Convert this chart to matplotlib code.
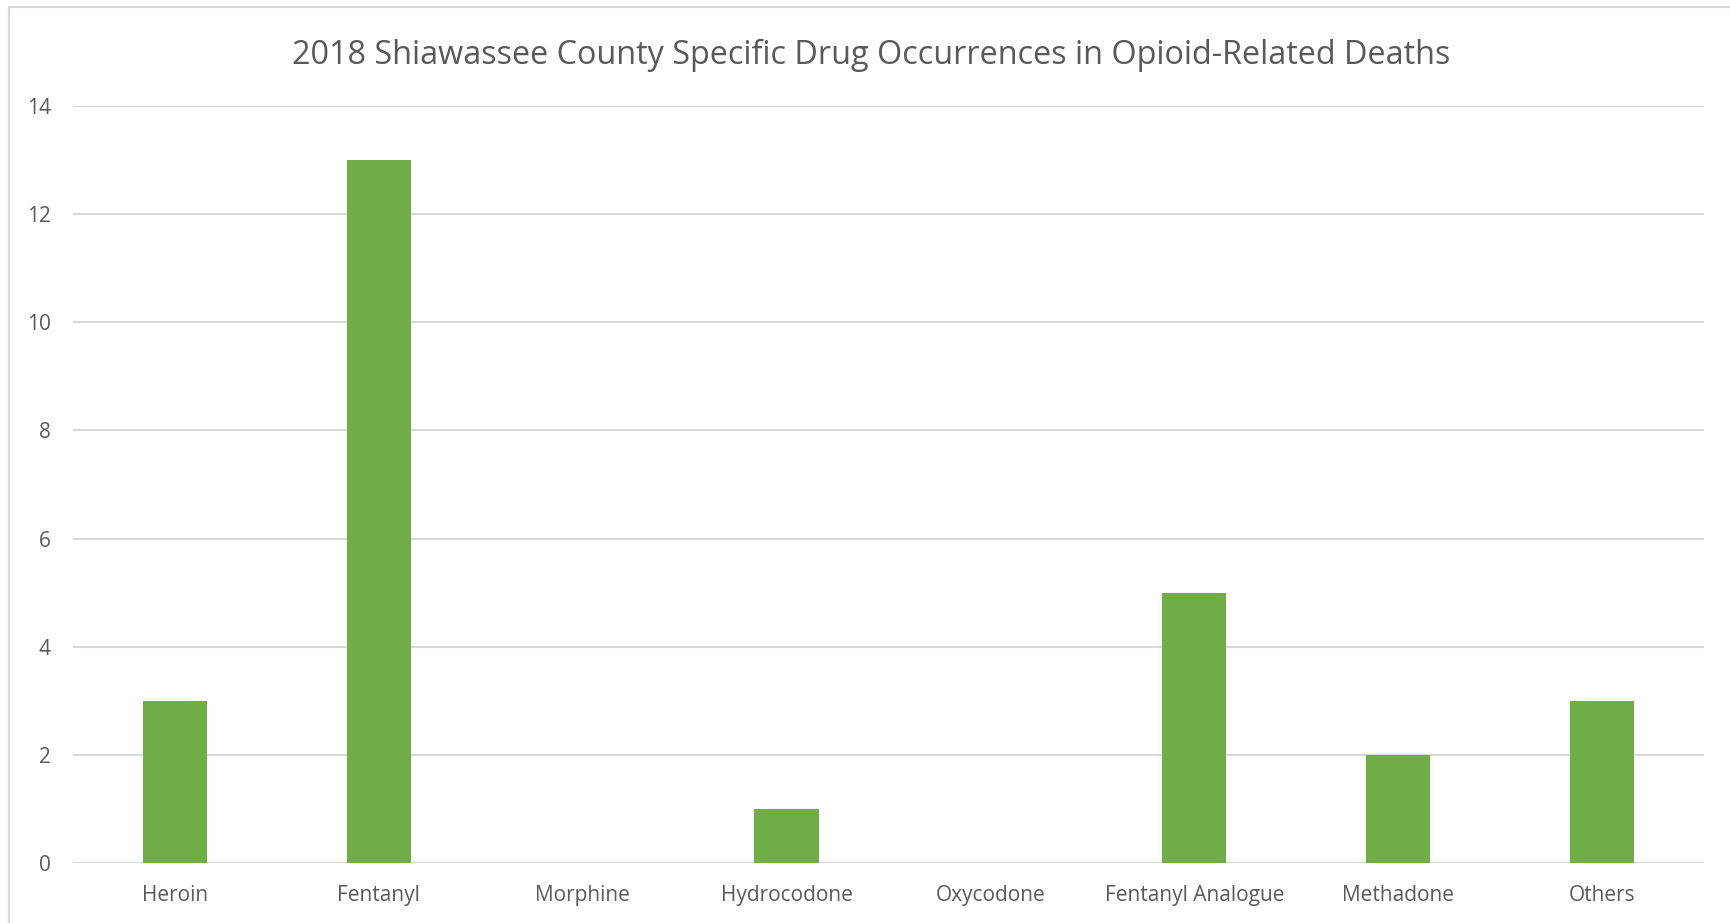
import matplotlib.pyplot as plt
from matplotlib.patches import Rectangle

# Dados do gráfico
drugs = ['Heroin', 'Fentanyl', 'Morphine', 'Hydrocodone', 'Oxycodone',
         'Fentanyl Analogue', 'Methadone', 'Others']
occurrences = [3, 13, 0, 1, 0, 5, 2, 3]
y_ticks = [0, 2, 4, 6, 8, 10, 12, 14]

title = '2018 Shiawassee County Specific Drug Occurrences in Opioid-Related Deaths'

plt.rcParams['font.family'] = ['Open Sans', 'DejaVu Sans']

W, H = 1730, 923
fig = plt.figure(figsize=(W / 100, H / 100), dpi=100, facecolor='white')

# Moldura do gráfico (só aparecem as bordas superior e esquerda)
fig.patches.append(Rectangle((9 / W, -0.05), 1.1, 1 - 7 / H + 0.05,
                             transform=fig.transFigure, fill=False,
                             edgecolor='#d9d9d9', linewidth=1.5))

ax = fig.add_axes([73 / W, 1 - 863 / H, (1704 - 73) / W, (863 - 106) / H])

x = range(len(drugs))
ax.bar(x, occurrences, width=0.315, color='#70ad47', zorder=3)

ax.set_xlim(-0.5, len(drugs) - 0.5)
ax.set_ylim(0, 14)
ax.set_yticks(y_ticks)
ax.set_xticks(list(x))
ax.set_xticklabels(drugs)

ax.grid(axis='y', color='#d9d9d9', linewidth=1.5, zorder=0)
for s in ax.spines.values():
    s.set_visible(False)
ax.tick_params(length=0, labelsize=15, labelcolor='#595959')
ax.tick_params(axis='y', pad=16)
ax.tick_params(axis='x', pad=16)

fig.text((290 + 1452) / 2 / W, 1 - 55 / H, title, ha='center', va='center',
         fontsize=23.3, color='#595959')

plt.savefig('out.png', dpi=100, facecolor='white')
plt.close()
